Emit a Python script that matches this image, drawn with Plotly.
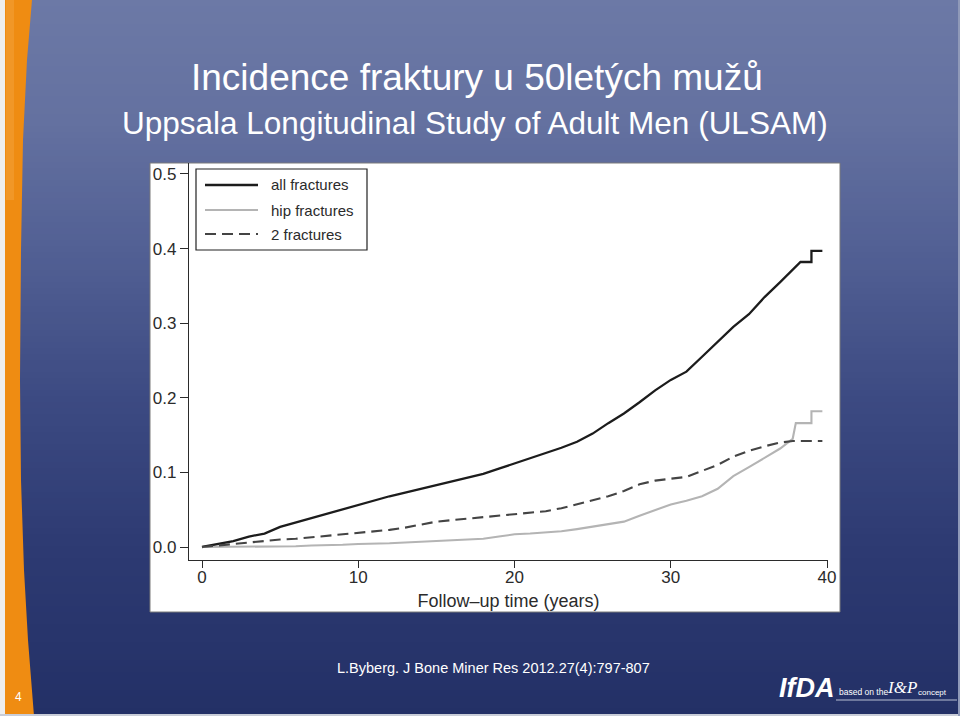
import plotly.graph_objects as go

# ---------------- data ----------------
years_all = [0, 1, 2, 3, 4, 5, 6, 7, 8, 9, 10, 11, 12, 13, 14, 15, 16, 17, 18, 19, 20,
             21, 22, 23, 24, 25, 26, 27, 28, 29, 30, 31, 32, 33, 34, 35, 36, 37, 38,
             38.3, 39.0, 39.0, 39.7]
all_fractures = [0.000, 0.004, 0.008, 0.014, 0.018, 0.027, 0.033, 0.038, 0.044, 0.050,
                 0.056, 0.062, 0.068, 0.073, 0.078, 0.083, 0.088, 0.093, 0.098, 0.105,
                 0.112, 0.119, 0.125, 0.133, 0.141, 0.152, 0.166, 0.179, 0.194, 0.210,
                 0.224, 0.235, 0.255, 0.275, 0.295, 0.312, 0.335, 0.355, 0.375,
                 0.382, 0.382, 0.397, 0.397]

years_hip = [0, 1, 2, 3, 4, 5, 6, 7, 8, 9, 10, 11, 12, 13, 14, 15, 16, 17, 18, 19, 20,
             21, 22, 23, 24, 25, 26, 27, 28, 29, 30, 31, 32, 33, 34, 35, 36, 37,
             37.8, 38.0, 39.0, 39.0, 39.7]
hip_fractures = [0.000, 0.000, 0.000, 0.000, 0.001, 0.001, 0.001, 0.002, 0.002, 0.003,
                 0.004, 0.004, 0.005, 0.006, 0.007, 0.008, 0.009, 0.010, 0.011, 0.014,
                 0.017, 0.018, 0.019, 0.021, 0.024, 0.027, 0.030, 0.034, 0.042, 0.050,
                 0.057, 0.062, 0.068, 0.078, 0.095, 0.107, 0.119, 0.132,
                 0.145, 0.166, 0.166, 0.182, 0.182]

years_two = [0, 1, 2, 3, 4, 5, 6, 7, 8, 9, 10, 11, 12, 13, 14, 15, 16, 17, 18, 19, 20,
             21, 22, 23, 24, 25, 26, 27, 28, 29, 30, 31, 32, 33, 34, 35, 36, 37, 37.8, 39.7]
two_fractures = [0.000, 0.002, 0.004, 0.006, 0.008, 0.010, 0.011, 0.013, 0.015, 0.017,
                 0.019, 0.021, 0.023, 0.026, 0.030, 0.034, 0.036, 0.038, 0.040, 0.042,
                 0.043, 0.045, 0.048, 0.052, 0.057, 0.062, 0.068, 0.075, 0.084, 0.089,
                 0.092, 0.094, 0.102, 0.110, 0.121, 0.129, 0.135, 0.140, 0.142, 0.142]

series_names = ["all fractures", "hip fractures", "2 fractures"]
x_ticks = [0, 10, 20, 30, 40]
y_ticks = [0.0, 0.1, 0.2, 0.3, 0.4, 0.5]
y_tick_labels = ["0.0", "0.1", "0.2", "0.3", "0.4", "0.5"]

title_text = "Incidence fraktury u 50letých mužů"
subtitle_text = "Uppsala Longitudinal Study of Adult Men (ULSAM)"
xaxis_title = "Follow\u2013up time (years)"
source_text = "L.Byberg. J Bone Miner Res 2012.27(4):797-807"

# ---------------- styling / layout helpers ----------------
W, H = 960, 716
L, R, T, B = 189, 828, 163, 560
FONT = "Liberation Sans, Arial, Helvetica, sans-serif"
INK = "#2b2b2b"


def PX(x):
    return (x - L) / (R - L)


def PY(y):
    return (B - y) / (B - T)


styles = [
    dict(color="#1c1c1c", width=2.3, dash="solid"),
    dict(color="#b4b4b4", width=2.1, dash="solid"),
    dict(color="#444444", width=2.1, dash="11px,6px"),
]

fig = go.Figure()
for name, xs, ys, st in zip(series_names,
                            [years_all, years_hip, years_two],
                            [all_fractures, hip_fractures, two_fractures],
                            styles):
    fig.add_trace(go.Scatter(x=xs, y=ys, mode="lines", name=name,
                             line=dict(color=st["color"], width=st["width"], dash=st["dash"]),
                             showlegend=False, hoverinfo="skip"))

shapes = []
# background vertical gradient
stops = [(0, (108, 121, 166)), (120, (100, 113, 160)), (250, (82, 96, 148)),
         (400, (60, 74, 130)), (550, (45, 58, 114)), (716, (35, 48, 102))]


def grad(y):
    for (y0, c0), (y1, c1) in zip(stops[:-1], stops[1:]):
        if y0 <= y <= y1:
            f = (y - y0) / (y1 - y0)
            return "rgb(%d,%d,%d)" % tuple(round(a + (b - a) * f) for a, b in zip(c0, c1))
    return "rgb(%d,%d,%d)" % stops[-1][1]


step = 6
for y in range(0, H, step):
    shapes.append(dict(type="rect", xref="paper", yref="paper", layer="below",
                       x0=PX(-2), x1=PX(W + 2), y0=PY(y + step + 1), y1=PY(y),
                       fillcolor=grad(y + step / 2), line=dict(width=0)))

# white strip at far left
shapes.append(dict(type="rect", xref="paper", yref="paper", layer="below",
                   x0=PX(-2), x1=PX(5), y0=PY(H + 2), y1=PY(-2),
                   fillcolor="#eeeeee", line=dict(width=0)))
# orange stripe
edge = [(32, 0), (27, 60), (23, 140), (21, 250), (20, 380), (21, 480), (24, 570), (28, 640), (34, 716)]
path = "M%.5f,%.5f " % (PX(5), PY(-2))
for ex, ey in edge:
    path += "L%.5f,%.5f " % (PX(ex), PY(ey))
path += "L%.5f,%.5f L%.5f,%.5f Z" % (PX(34), PY(H + 2), PX(5), PY(H + 2))
shapes.append(dict(type="path", xref="paper", yref="paper", layer="below", path=path,
                   fillcolor="#ef8c12", line=dict(width=0)))
shapes.append(dict(type="rect", xref="paper", yref="paper", layer="below",
                   x0=PX(6), x1=PX(14), y0=PY(200), y1=PY(0),
                   fillcolor="#f6b35a", opacity=0.3, line=dict(width=0)))
# bottom and right light edges
shapes.append(dict(type="rect", xref="paper", yref="paper", layer="below",
                   x0=PX(0), x1=PX(W + 2), y0=PY(H + 2), y1=PY(714),
                   fillcolor="#c9cdd8", line=dict(width=0)))
shapes.append(dict(type="rect", xref="paper", yref="paper", layer="below",
                   x0=PX(958), x1=PX(W + 2), y0=PY(H + 2), y1=PY(-2),
                   fillcolor="#8f99b8", line=dict(width=0)))
# white figure panel
shapes.append(dict(type="rect", xref="paper", yref="paper", layer="below",
                   x0=PX(150), x1=PX(840), y0=PY(612), y1=PY(163),
                   fillcolor="white", line=dict(color="#7a7a7a", width=1)))
# logo underline
shapes.append(dict(type="line", xref="paper", yref="paper", layer="below",
                   x0=PX(836), x1=PX(957), y0=PY(700), y1=PY(700),
                   line=dict(color="#b8bfd4", width=1.2)))

# manual legend (box, samples, labels)
shapes.append(dict(type="rect", xref="paper", yref="paper",
                   x0=PX(196), x1=PX(367), y0=PY(250), y1=PY(169),
                   fillcolor="white", line=dict(color="#222222", width=1.2)))
legend_y = [185, 210, 234]
annotations = []
for name, st, ly in zip(series_names, styles, legend_y):
    shapes.append(dict(type="line", xref="paper", yref="paper",
                       x0=PX(205), x1=PX(258), y0=PY(ly), y1=PY(ly),
                       line=dict(color=st["color"], width=st["width"],
                                 dash=st["dash"] if st["dash"] != "solid" else None)))
    annotations.append(dict(xref="paper", yref="paper", x=PX(269), y=PY(ly),
                            xanchor="left", yanchor="middle", showarrow=False,
                            text=name, font=dict(family=FONT, size=15, color=INK)))

# titles & footer texts
annotations += [
    dict(xref="paper", yref="paper", x=PX(477), y=PY(78), xanchor="center", yanchor="middle",
         showarrow=False, text=title_text,
         font=dict(family=FONT, size=37, color="white")),
    dict(xref="paper", yref="paper", x=PX(475), y=PY(123), xanchor="center", yanchor="middle",
         showarrow=False, text=subtitle_text,
         font=dict(family=FONT, size=31.5, color="white")),
    dict(xref="paper", yref="paper", x=PX(493), y=PY(668), xanchor="center", yanchor="middle",
         showarrow=False, text=source_text,
         font=dict(family=FONT, size=14.5, color="white")),
    dict(xref="paper", yref="paper", x=PX(18), y=PY(697), xanchor="center", yanchor="middle",
         showarrow=False, text="4", font=dict(family=FONT, size=12, color="white")),
    dict(xref="paper", yref="paper", x=PX(807), y=PY(688), xanchor="center", yanchor="middle",
         showarrow=False, text="<b><i>IfDA</i></b>",
         font=dict(family=FONT, size=27, color="white")),
    dict(xref="paper", yref="paper", x=PX(837), y=PY(692), xanchor="left", yanchor="middle",
         showarrow=False, text="based on the",
         font=dict(family=FONT, size=8.5, color="white")),
    dict(xref="paper", yref="paper", x=PX(902), y=PY(687), xanchor="center", yanchor="middle",
         showarrow=False, text="<i>I&amp;P</i>",
         font=dict(family="Liberation Serif, serif", size=17, color="white")),
    dict(xref="paper", yref="paper", x=PX(916), y=PY(692), xanchor="left", yanchor="middle",
         showarrow=False, text="concept",
         font=dict(family=FONT, size=8, color="white")),
]

fig.update_layout(
    width=W, height=H,
    margin=dict(l=L, r=W - R, t=T, b=H - B, pad=0),
    paper_bgcolor="rgb(60,74,130)",
    plot_bgcolor="rgba(0,0,0,0)",
    shapes=shapes,
    annotations=annotations,
    showlegend=False,
    xaxis=dict(range=[-0.832, 40.06], tickvals=x_ticks, ticks="outside", ticklen=7,
               tickwidth=1.3, tickcolor=INK, showline=True, linecolor=INK, linewidth=1.3,
               showgrid=False, zeroline=False, automargin=False, ticklabelstandoff=-6,
               tickfont=dict(family=FONT, size=17, color=INK),
               title=dict(text=xaxis_title, standoff=8,
                          font=dict(family=FONT, size=18, color=INK))),
    yaxis=dict(range=[-0.01743, 0.5147], tickvals=y_ticks, ticktext=y_tick_labels,
               ticks="outside", ticklen=8, tickwidth=1.3, tickcolor=INK,
               showline=True, linecolor=INK, linewidth=1.3, showgrid=False,
               zeroline=False, automargin=False,
               tickfont=dict(family=FONT, size=17, color=INK)),
)

fig.write_html("out.html")
